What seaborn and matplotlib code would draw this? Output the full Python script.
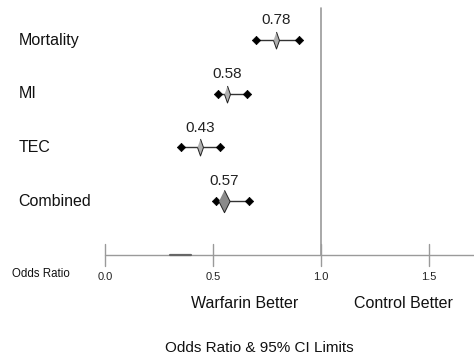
import matplotlib
matplotlib.use("Agg")
import matplotlib.pyplot as plt
import seaborn as sns
import pandas as pd

# datos
outcomes = ['Mortality', 'MI', 'TEC', 'Combined']
estimate = [0.79, 0.565, 0.44, 0.55]
lower = [0.70, 0.525, 0.35, 0.515]
upper = [0.90, 0.655, 0.53, 0.665]
value_labels = ['0.78', '0.58', '0.43', '0.57']
tick_values = [0.0, 0.5, 1.0, 1.5]
tick_labels = ['0.0', '0.5', '1.0', '1.5']

sns.set_theme(style="white")
plt.rcParams['font.family'] = ['Liberation Sans', 'DejaVu Sans']

df = pd.DataFrame({'outcome': outcomes, 'est': estimate, 'lo': lower, 'hi': upper,
                   'row': range(len(outcomes))})
ends = pd.concat([df[['row', 'lo']].rename(columns={'lo': 'x'}),
                  df[['row', 'hi']].rename(columns={'hi': 'x'})])

fig = plt.figure(figsize=(4.74, 3.58), dpi=100)
ax = fig.add_axes([0, 0, 1, 1])
ax.set_xlim(-0.486, 1.708)
ax.set_ylim(5.92, -0.745)
ax.axis('off')

gris = '#9a9a9a'
# linea vertical en 1.0 y eje
ax.plot([1.0, 1.0], [-0.6, 4.0], color=gris, lw=1.2, zorder=1)
ax.plot([0.0, 1.708], [4.0, 4.0], color=gris, lw=1.0, zorder=1)
ax.plot([0.30, 0.40], [4.0, 4.0], color='#666666', lw=1.6, zorder=2)
for t, lab in zip(tick_values, tick_labels):
    ax.plot([t, t], [3.8, 4.2], color=gris, lw=1.0, zorder=1)
    ax.text(t, 4.41, lab, ha='center', va='center', fontsize=8, color='#222222')

# intervalos
for i, r in df.iterrows():
    ax.plot([r['lo'], r['hi']], [r['row'], r['row']], color='#333333', lw=1.0, zorder=2)
sns.scatterplot(data=ends, x='x', y='row', marker='D', s=18, color='black',
                edgecolor='black', linewidth=0.5, legend=False, ax=ax, zorder=3)

rombo = [(0, 1), (0.35, 0), (0, -1), (-0.35, 0)]
sns.scatterplot(data=df.iloc[:3], x='est', y='row', marker=rombo, s=150, color='#b0b0b0',
                edgecolor='#222222', linewidth=0.7, legend=False, ax=ax, zorder=4)
sns.scatterplot(data=df.iloc[3:], x='est', y='row', marker=[(0, 1), (0.5, 0), (0, -1), (-0.5, 0)],
                s=260, color='#8a8a8a', edgecolor='#222222', linewidth=0.7,
                legend=False, ax=ax, zorder=4)

for i, r in df.iterrows():
    ax.text(r['est'], r['row'] - 0.37, value_labels[i], ha='center', va='center',
            fontsize=11, color='#222222')
    ax.text(-0.40, r['row'], r['outcome'], ha='left', va='center', fontsize=11.5,
            color='#111111')

ax.text(-0.43, 4.35, 'Odds Ratio', ha='left', va='center', fontsize=8.3, color='#111111')
ax.text(0.647, 4.9, 'Warfarin Better', ha='center', va='center', fontsize=11.5, color='#111111')
ax.text(1.38, 4.9, 'Control Better', ha='center', va='center', fontsize=11.5, color='#111111')
ax.text(0.713, 5.74, 'Odds Ratio & 95% CI Limits', ha='center', va='center', fontsize=11,
        color='#111111')

fig.savefig('out.png', dpi=100)
